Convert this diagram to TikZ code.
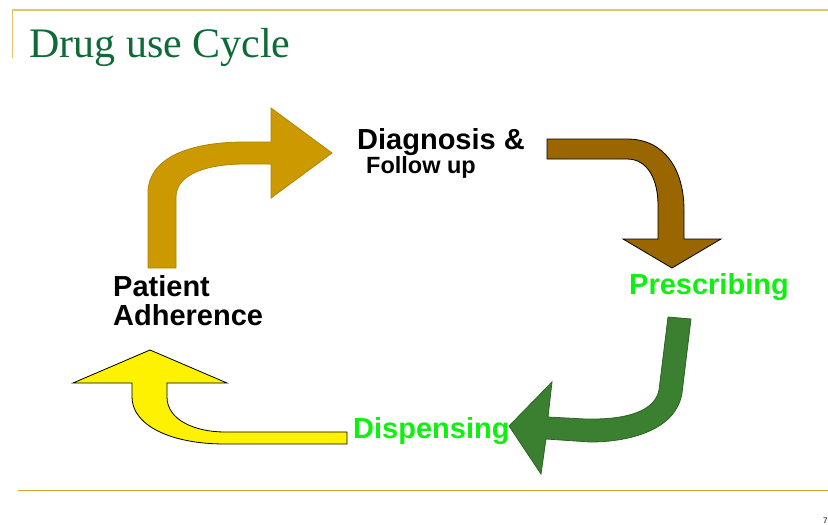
\documentclass[tikz,border=0pt]{standalone}
\usepackage{fontspec}
\setmainfont{Liberation Serif}
\newfontfamily\arialfont{Liberation Sans}
\definecolor{titlegreen}{RGB}{14,106,54}
\definecolor{toprule}{RGB}{226,196,110}
\definecolor{botrule}{RGB}{214,165,40}
\definecolor{goldfill}{RGB}{204,153,0}
\definecolor{golddraw}{RGB}{176,132,0}
\definecolor{brownfill}{RGB}{153,102,0}
\definecolor{greenfill}{RGB}{59,127,48}
\definecolor{greendraw}{RGB}{44,100,36}
\definecolor{lime}{RGB}{16,240,16}
\tikzset{
  lbl/.style={inner sep=0pt, anchor=base west, font=\arialfont\bfseries\fontsize{29}{29}\selectfont},
  smalllbl/.style={lbl, font=\arialfont\bfseries\fontsize{23.5}{23.5}\selectfont},
  bigarrow/.style={line width=0.8pt, line join=miter}
}
\begin{document}
\begin{tikzpicture}[x=1pt,y=-1pt]
\useasboundingbox (0,0) rectangle (828,525);
% frame lines
\draw[toprule, line width=1.2pt] (12.5,58) -- (12.5,10) -- (828,10);
\draw[botrule, line width=1pt] (18,490) -- (828,490);
% title
\node[inner sep=0pt, anchor=base west, text=titlegreen, font=\fontsize{42}{42}\selectfont] (title) at (29,57) {Drug use Cycle};
% page number
\node[inner sep=0pt, anchor=base west, font=\arialfont\fontsize{8}{8}\selectfont] (pagenum) at (823,523) {7};
% gold arrow (Patient Adherence -> Diagnosis)
\filldraw[bigarrow, fill=goldfill, draw=golddraw]
  (148,268) -- (148,193) .. controls (148,160) and (185,142) .. (245,142)
  -- (271,142) -- (271,108) -- (332,153) -- (271,198) -- (271,164) -- (245,164)
  .. controls (205,164) and (176,175) .. (176,197) -- (176,268) -- cycle;
% brown arrow (Diagnosis -> Prescribing)
\filldraw[bigarrow, fill=brownfill, draw=black]
  (547,139) -- (627,139) .. controls (665,139) and (684,170) .. (684,210)
  -- (684,239) -- (721,239) -- (672,268) -- (623,239) -- (658,239) -- (658,205)
  .. controls (658,180) and (648,159) .. (627,159) -- (547,159) -- cycle;
% green arrow (Prescribing -> Dispensing)
\filldraw[bigarrow, fill=greenfill, draw=greendraw]
  (668,317) -- (691,319) -- (682,393) .. controls (676,430) and (630,442) .. (590,442)
  -- (546,439) -- (541,474) -- (509,426) -- (552,382) -- (548,417) -- (585,419)
  .. controls (630,420) and (655,410) .. (659,390) -- cycle;
% yellow arrow (Dispensing -> Patient Adherence)
\filldraw[bigarrow, fill=yellow, draw=black]
  (73,383) -- (150,350) -- (227,383) -- (167,383) -- (167,397)
  .. controls (167,420) and (195,432) .. (225,432) -- (347,432) -- (347,444) -- (225,444)
  .. controls (170,444) and (132,425) .. (132,397) -- (132,383) -- cycle;
% labels
\node[lbl] (diag) at (357,149) {Diagnosis \&};
\node[smalllbl] (follow) at (366,173) {Follow up};
\node[lbl, text=lime] (presc) at (629,294) {Prescribing};
\node[lbl] (patient) at (113,296) {Patient};
\node[lbl] (adher) at (113,325) {Adherence};
\node[lbl, text=lime] (disp) at (353,438) {Dispensing};
\end{tikzpicture}
\end{document}
